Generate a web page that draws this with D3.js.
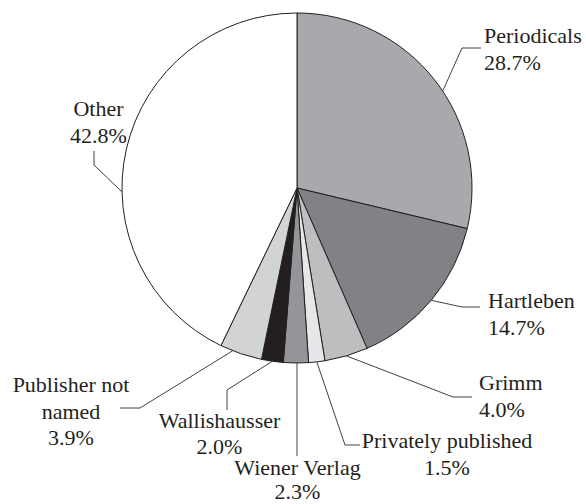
<!DOCTYPE html>
<html>
<head>
<meta charset="utf-8">
<script src="https://cdn.jsdelivr.net/npm/d3@7"></script>
<style>
  html, body { margin: 0; padding: 0; background: #ffffff; }
  svg { display: block; }
  text { font-family: "Liberation Serif", "Times New Roman", serif; font-size: 22px; fill: #231f20; }
</style>
</head>
<body>
<svg id="chart" width="586" height="504"></svg>
<script>
// ---- data ----
const categories = ["Periodicals", "Hartleben", "Grimm", "Privately published", "Wiener Verlag", "Wallishausser", "Publisher not named", "Other"];
const shares = [28.7, 14.7, 4.0, 1.5, 2.3, 2.0, 3.9, 42.8];
const labelLines = [["Periodicals"], ["Hartleben"], ["Grimm"], ["Privately published"], ["Wiener Verlag"], ["Wallishausser"], ["Publisher not", "named"], ["Other"]];
const fills = ["#a7a9ac", "#808285", "#bcbec0", "#e6e7e8", "#939598", "#231f20", "#d1d3d4", "#ffffff"];

// ---- layout (annotation placement) ----
const cx = 297, cy = 188, radius = 175;
const layout = [
  { frac: 0.545, pts: [[462, 48], [481, 48]], tx: 484, ty: 43, lh: 26.5, anchor: "start" },
  { frac: 0.5,   pts: [[462, 307], [480, 307]], tx: 488, ty: 308, lh: 26.5, anchor: "start" },
  { frac: 0.5,   pts: [[453, 397], [472, 397]], tx: 479, ty: 390, lh: 26.5, anchor: "start" },
  { frac: 0.5,   pts: [[345, 445], [360, 445]], tx: 447, ty: 448, lh: 26.5, anchor: "middle" },
  { frac: 0.5,   pts: [[297, 456]], tx: 297.5, ty: 475, lh: 24, anchor: "middle", vertical: true },
  { frac: 0.5,   pts: [[227, 390], [227, 410]], tx: 219.5, ty: 428, lh: 25.5, anchor: "middle" },
  { frac: 0.70,  pts: [[140, 408], [120, 408]], tx: 71, ty: 392, lh: 26.5, anchor: "middle" },
  { frac: 0.408, pts: [[94, 165], [94, 151]], tx: 98.5, ty: 116, lh: 26.5, anchor: "middle" }
];

const svg = d3.select("#chart");
const g = svg.append("g").attr("transform", `translate(${cx},${cy})`);

const pie = d3.pie().sort(null).value(d => d.v);
const arcs = pie(categories.map((c, i) => ({ c, v: shares[i], i })));
const arc = d3.arc().innerRadius(0).outerRadius(radius);

g.selectAll("path.slice")
  .data(arcs)
  .join("path")
  .attr("class", "slice")
  .attr("d", arc)
  .attr("fill", d => fills[d.data.i])
  .attr("stroke", "#231f20")
  .attr("stroke-width", 1)
  .attr("stroke-linejoin", "round");

// leader lines
const line = d3.line();
arcs.forEach((d, i) => {
  const L = layout[i];
  const a = d.startAngle + (d.endAngle - d.startAngle) * L.frac;
  let ax = cx + radius * Math.sin(a);
  const ay = cy - radius * Math.cos(a);
  if (L.vertical) ax = L.pts[0][0];
  const pts = [[ax, ay]].concat(L.pts);
  svg.append("path")
    .attr("d", line(pts))
    .attr("fill", "none")
    .attr("stroke", "#414042")
    .attr("stroke-width", 1);
});

// labels
arcs.forEach((d, i) => {
  const L = layout[i];
  const lines = labelLines[i].concat([d3.format(".1f")(shares[i]) + "%"]);
  const t = svg.append("text")
    .attr("text-anchor", L.anchor);
  lines.forEach((s, k) => {
    t.append("tspan")
      .attr("x", L.tx)
      .attr("y", L.ty + k * L.lh)
      .text(s);
  });
});
</script>
</body>
</html>
